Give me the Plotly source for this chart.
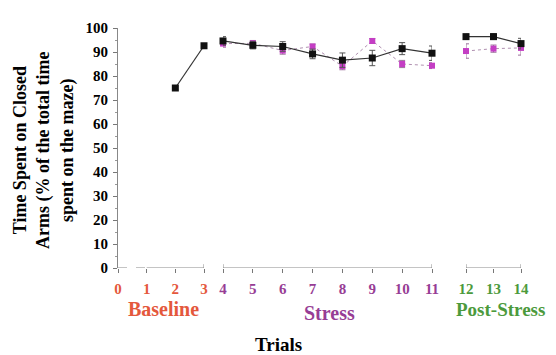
import plotly.graph_objects as go

# ---- data ----
base_trials = [2, 3]
base_ctrl = [75, 92.6]
base_ctrl_err = [0.8, 0.8]

stress_trials = [4, 5, 6, 7, 8, 9, 10, 11]
stress_ctrl = [94.6, 92.8, 92.3, 89.2, 86.6, 87.5, 91.4, 89.5]
stress_ctrl_err = [1.8, 1.5, 2.0, 2.0, 3.0, 3.2, 2.5, 3.0]
stress_exp = [93.5, 93.6, 90.6, 92.3, 84.1, 94.6, 85.0, 84.3]
stress_exp_err = [1.5, 1.2, 1.5, 1.0, 1.5, 1.0, 1.5, 1.2]

post_trials = [12, 13, 14]
post_ctrl = [96.4, 96.4, 93.5]
post_ctrl_err = [1.0, 1.2, 2.2]
post_exp = [90.4, 91.4, 91.7]
post_exp_err = [3.0, 1.5, 3.0]

base_ticks = [0, 1, 2, 3]
stress_ticks = [4, 5, 6, 7, 8, 9, 10, 11]
post_ticks = [12, 13, 14]

y_ticks = list(range(0, 101, 10))

# ---- style ----
RED = "#e4583c"
PURPLE = "#973d95"
GREEN = "#4c9a3c"
MAG = "#c43ec4"
FONT = "Liberation Serif, Times New Roman, serif"

OFF = 8  # page body margin
L, R, T, B = 118, 35, 20, 87
W, H = 556, 355
pw = W - L - R
ph = H - T - B
def xp(px):
    return (px - L) / pw
def yp(py):
    return (H - B - py) / ph

fig = go.Figure()

def ctrl_trace(x, y, e, axis):
    return go.Scatter(
        x=x, y=y, xaxis=axis, yaxis="y", mode="lines+markers",
        line=dict(color="#333333", width=1.2),
        marker=dict(symbol="square", size=7, color="#111111"),
        error_y=dict(type="data", array=e, color="#555555", thickness=1, width=3),
        cliponaxis=False, showlegend=False)

def exp_trace(x, y, e, axis):
    return go.Scatter(
        x=x, y=y, xaxis=axis, yaxis="y", mode="lines+markers",
        line=dict(color="#b090b0", width=1, dash="dot"),
        marker=dict(symbol="square", size=6, color=MAG),
        error_y=dict(type="data", array=e, color="#9a709a", thickness=1, width=3),
        cliponaxis=False, showlegend=False)

fig.add_trace(ctrl_trace(base_trials, base_ctrl, base_ctrl_err, "x"))
fig.add_trace(exp_trace(stress_trials, stress_exp, stress_exp_err, "x2"))
fig.add_trace(ctrl_trace(stress_trials, stress_ctrl, stress_ctrl_err, "x2"))
fig.add_trace(exp_trace(post_trials, post_exp, post_exp_err, "x3"))
fig.add_trace(ctrl_trace(post_trials, post_ctrl, post_ctrl_err, "x3"))

def xaxis(domain, rng, ticks, color):
    return dict(
        domain=domain, range=rng, anchor="y", tickvals=ticks,
        ticktext=[str(t) for t in ticks], showline=False, showgrid=False,
        zeroline=False, ticks="outside", ticklen=4, tickcolor="#777777",
        tickfont=dict(family=FONT, size=15, color=color, weight="bold"),
        ticklabelstandoff=3, fixedrange=True)

fig.update_layout(
    width=W - OFF, height=H - OFF,
    margin=dict(l=L - OFF, r=R, t=T - OFF, b=B),
    plot_bgcolor="white", paper_bgcolor="white",
    xaxis=xaxis([0, xp(204)], [0, 3], base_ticks, RED),
    xaxis2=xaxis([xp(223), xp(432)], [4, 11], stress_ticks, PURPLE),
    xaxis3=xaxis([xp(466), 1], [12, 14], post_ticks, GREEN),
    yaxis=dict(
        range=[0, 100], tickvals=y_ticks, showgrid=False, zeroline=False,
        showline=True, linecolor="#888888", linewidth=1,
        ticks="outside", ticklen=4, tickcolor="#777777",
        minor=dict(dtick=5, ticks="outside", ticklen=2, tickcolor="#999999"),
        tickfont=dict(family=FONT, size=15, color="black", weight="bold"),
        ticklabelstandoff=2, fixedrange=True),
)

# axis lines for broken x axis
gray = dict(color="#888888", width=1)
fig.add_shape(type="line", xref="x", yref="y", x0=0, x1=1, y0=0, y1=0,
              line=dict(color="#888888", width=1, dash="dash"))
fig.add_shape(type="line", xref="x", yref="y", x0=1, x1=3, y0=0, y1=0, line=gray)
fig.add_shape(type="line", xref="x2", yref="y", x0=4, x1=11, y0=0, y1=0, line=gray)
fig.add_shape(type="line", xref="x3", yref="y", x0=12, x1=14, y0=0, y1=0, line=gray)
# end caps
for ax, xv in [("x", 3), ("x2", 4), ("x2", 11), ("x3", 12), ("x3", 14)]:
    fig.add_shape(type="line", xref=ax, yref="y", x0=xv, x1=xv, y0=-1.6, y1=1.6,
                  line=gray)

def ann(text, x, y, color, size=20, angle=0):
    fig.add_annotation(text=text, x=x, y=y, xref="paper", yref="paper",
                       showarrow=False, xanchor="center", yanchor="middle",
                       textangle=angle,
                       font=dict(family=FONT, size=size, color=color, weight="bold"))

ann("Baseline", xp(163), yp(310), RED)
ann("Stress", xp(329), yp(314), PURPLE)
ann("Post-Stress", xp(500), yp(311), GREEN, size=19)
ann("Trials", xp(278), yp(347), "black", size=19)
ann("Time Spent on Closed<br>Arms (% of the total time<br>spent on the maze)",
    xp(44), yp(147), "black", size=18, angle=-90)

fig.write_html("out.html")
